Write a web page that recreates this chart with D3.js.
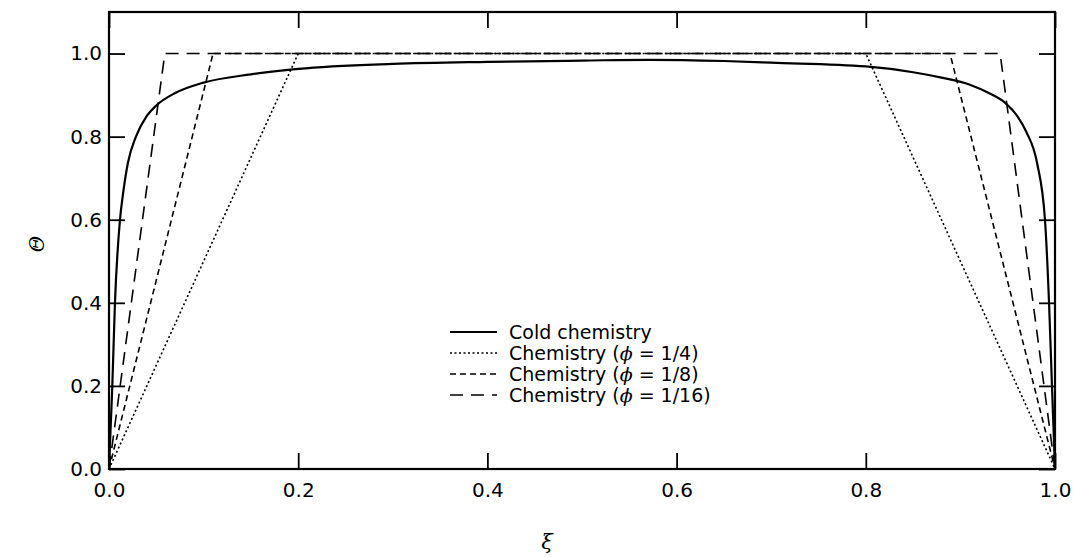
<!DOCTYPE html>
<html>
<head>
<meta charset="utf-8">
<script src="https://cdn.jsdelivr.net/npm/d3@7"></script>
<style>
  body { margin: 0; background: #fff; }
  svg { display: block; }
  text { font-family: "DejaVu Sans", sans-serif; fill: #000; }
</style>
</head>
<body>
<svg id="chart" width="1074" height="557"></svg>
<script>
// ---- data ----
const xTicks = [0.0, 0.2, 0.4, 0.6, 0.8, 1.0];
const yTicks = [0.0, 0.2, 0.4, 0.6, 0.8, 1.0];
const xTickLabels = ["0.0", "0.2", "0.4", "0.6", "0.8", "1.0"];
const yTickLabels = ["0.0", "0.2", "0.4", "0.6", "0.8", "1.0"];

const coldXi = [0, 0.0035, 0.0063, 0.0116, 0.015, 0.02, 0.0285, 0.04, 0.05, 0.07, 0.1, 0.15, 0.2, 0.3, 0.4, 0.5, 0.57, 0.65, 0.7, 0.8, 0.85, 0.88, 0.91, 0.93, 0.947, 0.96, 0.97, 0.981, 0.9894, 0.9937, 0.9968, 1.0];
const coldTheta = [0, 0.2, 0.4, 0.6, 0.665, 0.737, 0.8, 0.85, 0.875, 0.905, 0.93, 0.95, 0.963, 0.975, 0.98, 0.983, 0.985, 0.982, 0.978, 0.969, 0.955, 0.942, 0.925, 0.905, 0.882, 0.85, 0.81, 0.737, 0.6, 0.4, 0.2, 0];

const chem4Xi = [0, 0.2, 0.8, 1.0];
const chem4Theta = [0, 1.0, 1.0, 0];
const chem8Xi = [0, 0.11, 0.889, 1.0];
const chem8Theta = [0, 1.0, 1.0, 0];
const chem16Xi = [0, 0.059, 0.942, 1.0];
const chem16Theta = [0, 1.0, 1.0, 0];

const seriesNames = ["Cold chemistry", "Chemistry (ϕ = 1/4)", "Chemistry (ϕ = 1/8)", "Chemistry (ϕ = 1/16)"];

// ---- layout ----
const svg = d3.select("#chart");
const m = { left: 109, top: 12, right: 1055, bottom: 469 };
const x = d3.scaleLinear().domain([0, 1]).range([m.left, m.right]);
const y = d3.scaleLinear().domain([0, 1.1]).range([m.bottom, m.top]);

const styles = [
  { dash: null, width: 2.2 },
  { dash: "2,2.5", width: 1.6 },
  { dash: "6,4", width: 1.6 },
  { dash: "13,8", width: 1.6 }
];

const series = [
  { xs: coldXi, ys: coldTheta, curve: d3.curveMonotoneX },
  { xs: chem4Xi, ys: chem4Theta, curve: d3.curveLinear },
  { xs: chem8Xi, ys: chem8Theta, curve: d3.curveLinear },
  { xs: chem16Xi, ys: chem16Theta, curve: d3.curveLinear }
];

svg.append("clipPath").attr("id", "clip")
  .append("rect").attr("x", m.left).attr("y", m.top)
  .attr("width", m.right - m.left).attr("height", m.bottom - m.top);

const g = svg.append("g").attr("clip-path", "url(#clip)");
series.forEach((s, i) => {
  const pts = s.xs.map((v, k) => [v, s.ys[k]]);
  const line = d3.line().x(d => x(d[0])).y(d => y(d[1])).curve(s.curve);
  g.append("path").attr("d", line(pts))
    .attr("fill", "none").attr("stroke", "#000")
    .attr("stroke-width", styles[i].width)
    .attr("stroke-dasharray", styles[i].dash);
});

// ---- axes (inward ticks on all four sides) ----
const tl = 16;
const fmtX = (d, i) => xTickLabels[i];
const fmtY = (d, i) => yTickLabels[i];

const axB = svg.append("g").attr("transform", `translate(0,${m.bottom})`)
  .call(d3.axisBottom(x).tickValues(xTicks).tickFormat(fmtX).tickSizeInner(-tl).tickSizeOuter(0).tickPadding(14));
const axT = svg.append("g").attr("transform", `translate(0,${m.top})`)
  .call(d3.axisTop(x).tickValues(xTicks).tickFormat("").tickSizeInner(-tl).tickSizeOuter(0));
const axL = svg.append("g").attr("transform", `translate(${m.left},0)`)
  .call(d3.axisLeft(y).tickValues(yTicks).tickFormat(fmtY).tickSizeInner(-tl).tickSizeOuter(0).tickPadding(7));
const axR = svg.append("g").attr("transform", `translate(${m.right},0)`)
  .call(d3.axisRight(y).tickValues(yTicks).tickFormat("").tickSizeInner(-tl).tickSizeOuter(0));

[axB, axT, axL, axR].forEach(a => {
  a.select(".domain").remove();
  a.selectAll(".tick line").attr("stroke", "#000").attr("stroke-width", 1.8);
  a.selectAll("text").style("font-family", "'DejaVu Sans', sans-serif").style("font-size", "20px").attr("fill", "#000");
});

svg.append("rect").attr("x", m.left).attr("y", m.top)
  .attr("width", m.right - m.left).attr("height", m.bottom - m.top)
  .attr("fill", "none").attr("stroke", "#000").attr("stroke-width", 2.2);

// ---- axis titles ----
svg.append("text").attr("x", 547).attr("y", 549).attr("text-anchor", "middle")
  .style("font-size", "21px").style("font-style", "italic").style("font-family", "'DejaVu Serif', serif").text("ξ");
svg.append("text").attr("transform", "translate(44,244) rotate(-90)").attr("text-anchor", "middle")
  .style("font-size", "20px").style("font-style", "italic").style("font-family", "'DejaVu Serif', serif").text("Θ");

// ---- legend ----
const lg = svg.append("g");
const rowY = [332, 353, 374, 395];
seriesNames.forEach((name, i) => {
  lg.append("line").attr("x1", 450).attr("x2", 497).attr("y1", rowY[i]).attr("y2", rowY[i])
    .attr("stroke", "#000").attr("stroke-width", styles[i].width)
    .attr("stroke-dasharray", styles[i].dash);
  const t = lg.append("text").attr("x", 509).attr("y", rowY[i]).attr("dy", "0.35em").style("font-size", "19px");
  if (i === 0) {
    t.text(name);
  } else {
    const parts = name.split("ϕ");
    t.append("tspan").text(parts[0]);
    t.append("tspan").style("font-style", "italic").style("font-family", "'DejaVu Serif', serif").text("ϕ");
    t.append("tspan").text(parts[1]);
  }
});
</script>
</body>
</html>
